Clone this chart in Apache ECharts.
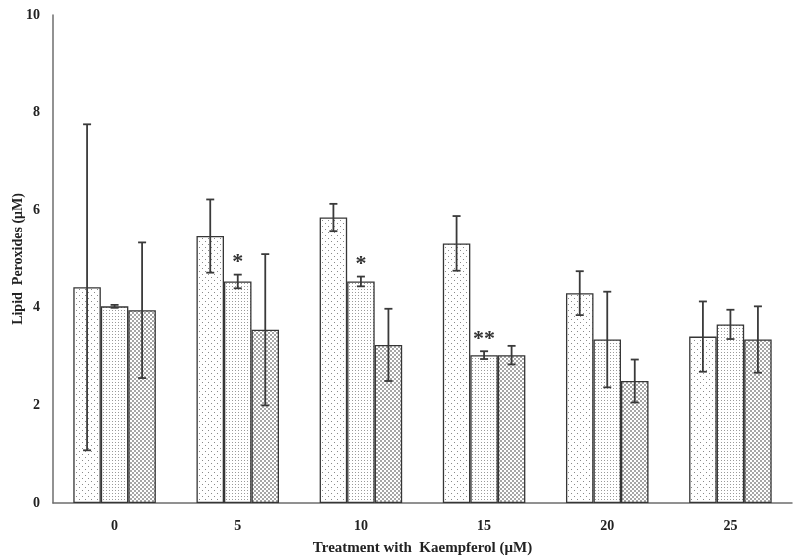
<!DOCTYPE html>
<html>
<head>
<meta charset="utf-8">
<script src="https://cdn.jsdelivr.net/npm/echarts@6/dist/echarts.min.js"></script>
<style>html,body{margin:0;padding:0;background:#fff}#c{width:800px;height:556px}</style>
</head>
<body>
<div id="c"></div>
<script>
const categories = ['0', '5', '10', '15', '20', '25'];
const series1 = [4.42, 5.47, 5.85, 5.32, 4.30, 3.41];
const series2 = [4.03, 4.54, 4.54, 3.03, 3.35, 3.66];
const series3 = [3.95, 3.55, 3.24, 3.03, 2.50, 3.35];
const err1 = [3.34, 0.75, 0.28, 0.56, 0.45, 0.72];
const err2 = [0.03, 0.14, 0.10, 0.08, 0.98, 0.30];
const err3 = [1.39, 1.55, 0.74, 0.19, 0.44, 0.68];
const marks2 = ['', '*', '*', '**', '', ''];
const yTicks = [0, 2, 4, 6, 8, 10];

function makePattern(size, dots, bg, fg) {
  const c = document.createElement('canvas');
  c.width = size[0]; c.height = size[1];
  const g = c.getContext('2d');
  g.fillStyle = bg; g.fillRect(0, 0, size[0], size[1]);
  g.fillStyle = fg;
  dots.forEach(d => g.fillRect(d[0], d[1], d[2] || 1, d[3] || 1));
  return c;
}
const pat1 = makePattern([6, 6], [[1, 1], [4, 4]], '#ffffff', '#8a8a8a');
const pat2 = makePattern([3, 3], [[1, 1]], '#ffffff', '#9a9a9a');
const pat3 = makePattern([4, 4], [[0, 0, 2, 2], [2, 2, 2, 2]], '#ffffff', '#a6a6a6');
const pats = [pat1, pat2, pat3];
const vals = [series1, series2, series3];
const errs = [err1, err2, err3];

const catGap = 0.33;
const barSeries = vals.map((v, i) => ({
  type: 'bar',
  data: v,
  barGap: '0%',
  barCategoryGap: (catGap * 100) + '%',
  itemStyle: { color: { image: pats[i], repeat: 'repeat' }, borderColor: '#363636', borderWidth: 1.3 },
  silent: true,
  z: 2
}));

const errData = [];
for (let s = 0; s < 3; s++) {
  for (let c = 0; c < categories.length; c++) {
    errData.push([c, vals[s][c], errs[s][c], s, s === 1 ? marks2[c] : '']);
  }
}

const errSeries = {
  type: 'custom',
  data: errData,
  z: 5,
  silent: true,
  renderItem: function (params, api) {
    const c = api.value(0), v = api.value(1), e = api.value(2), s = api.value(3);
    const mark = errData[params.dataIndex][4];
    const band = api.size([1, 0])[0];
    const bw = band * (1 - catGap) / 3;
    const center = api.coord([c, v]);
    const x = center[0] + (s - 1) * bw;
    const top = api.coord([c, v + e])[1];
    const bot = api.coord([c, v - e])[1];
    const cap = 4;
    const st = { stroke: '#3a3a3a', lineWidth: 1.8 };
    const children = [
      { type: 'line', shape: { x1: x, y1: top, x2: x, y2: bot }, style: st },
      { type: 'line', shape: { x1: x - cap, y1: top, x2: x + cap, y2: top }, style: st },
      { type: 'line', shape: { x1: x - cap, y1: bot, x2: x + cap, y2: bot }, style: st }
    ];
    if (mark) {
      children.push({ type: 'text', style: { text: mark, x: x, y: top - 1, align: 'center', verticalAlign: 'bottom', font: 'bold 22px "Liberation Serif"', fill: '#333' } });
    }
    return { type: 'group', children: children };
  }
};

const chart = echarts.init(document.getElementById('c'));
chart.setOption({
  animation: false,
  backgroundColor: '#ffffff',
  grid: { left: 53, right: 8, top: 15, bottom: 53, containLabel: false, outerBoundsMode: 'none' },
  xAxis: {
    type: 'category',
    data: categories,
    axisLine: { lineStyle: { color: '#6e6e6e', width: 1.5 } },
    axisTick: { show: false },
    axisLabel: { color: '#222', fontFamily: 'Liberation Serif', fontWeight: 'bold', fontSize: 14, margin: 16 },
    name: 'Treatment with  Kaempferol (μM)',
    nameLocation: 'middle',
    nameGap: 38,
    nameMoveOverlap: false,
    nameTextStyle: { color: '#222', fontFamily: 'Liberation Serif', fontWeight: 'bold', fontSize: 15 }
  },
  yAxis: {
    type: 'value',
    min: yTicks[0],
    max: yTicks[yTicks.length - 1],
    interval: yTicks[1] - yTicks[0],
    splitLine: { show: false },
    axisLine: { show: true, lineStyle: { color: '#6e6e6e', width: 1.5 } },
    axisTick: { show: false },
    axisLabel: { color: '#222', fontFamily: 'Liberation Serif', fontWeight: 'bold', fontSize: 14, margin: 13 },
    name: 'Lipid  Peroxides (μM)',
    nameLocation: 'middle',
    nameGap: 28,
    nameMoveOverlap: false,
    nameTextStyle: { color: '#222', fontFamily: 'Liberation Serif', fontWeight: 'bold', fontSize: 14 }
  },
  series: barSeries.concat([errSeries])
});
</script>
</body>
</html>
